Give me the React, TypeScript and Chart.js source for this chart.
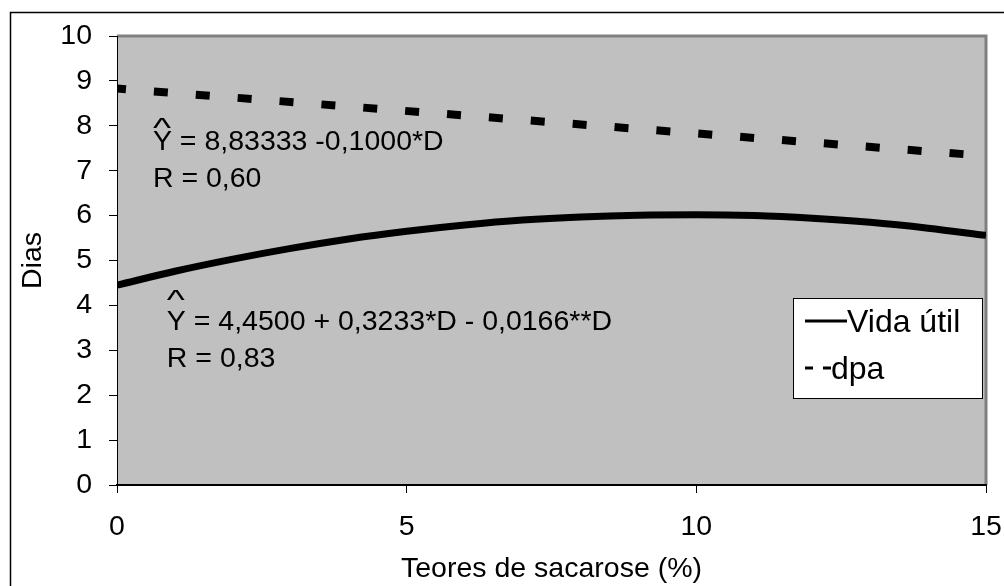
import React, { useEffect, useRef } from 'react';
import Chart from 'chart.js/auto';

// Teores de sacarose (%)
const sacarose = [0, 1, 2, 3, 4, 5, 6, 7, 8, 9, 10, 11, 12, 13, 14, 15];
// Vida útil (dias)
const vidaUtil = [4.45, 4.76, 5.03, 5.27, 5.48, 5.65, 5.79, 5.9, 5.97, 6.01, 6.02, 6.0, 5.94, 5.85, 5.72, 5.56];
// dpa (dias)
const dpaX = [0, 15];
const dpa = [8.83, 7.33];

const xTicks = [0, 5, 10, 15];
const yTicks = [0, 1, 2, 3, 4, 5, 6, 7, 8, 9, 10];

const FONT = '"Liberation Sans", Arial, sans-serif';
const SIZE = 28.5;

// regression labels, anchored in data units
const notes = [
  { x: 0.62, y: 7.46, caretGap: 13, lines: ['Y = 8,83333 -0,1000*D', 'R = 0,60'] },
  { x: 0.86, y: 3.45, caretGap: 21, lines: ['Y = 4,4500 + 0,3233*D - 0,0166**D', 'R = 0,83'] },
];

const framePlugin = {
  id: 'frame',
  beforeDraw(chart: any) {
    const { ctx, chartArea: a, width, height } = chart;
    ctx.save();
    ctx.fillStyle = '#fff';
    ctx.fillRect(0, 0, width, height);
    ctx.fillStyle = '#C0C0C0';
    ctx.fillRect(a.left, a.top, a.right - a.left, a.bottom - a.top);
    // outer frame (right/bottom sides fall outside the picture)
    ctx.strokeStyle = '#000';
    ctx.lineWidth = 1.5;
    ctx.beginPath();
    ctx.moveTo(10.5, height);
    ctx.lineTo(10.5, 12.5);
    ctx.lineTo(width, 12.5);
    ctx.stroke();
    // gray top / right edge of plot area
    ctx.strokeStyle = '#808080';
    ctx.lineWidth = 3;
    ctx.beginPath();
    ctx.moveTo(a.left, a.top);
    ctx.lineTo(a.right, a.top);
    ctx.lineTo(a.right, a.bottom);
    ctx.stroke();
    ctx.restore();
  },
  afterDraw(chart: any) {
    const { ctx } = chart;
    const xs = chart.scales.x;
    const ys = chart.scales.y;
    ctx.save();
    ctx.fillStyle = '#000';
    ctx.font = `${SIZE}px ${FONT}`;
    ctx.textAlign = 'left';
    ctx.textBaseline = 'alphabetic';
    notes.forEach((n) => {
      const px = xs.getPixelForValue(n.x);
      const py = ys.getPixelForValue(n.y);
      ctx.save();
      ctx.translate(px, py - n.caretGap);
      ctx.scale(1.35, 1);
      ctx.fillText('^', 0, 0);
      ctx.restore();
      n.lines.forEach((t, i) => ctx.fillText(t, px, py + i * 37));
    });

    // legend box
    const lx = 793, ly = 298, lw = 189, lh = 100;
    ctx.fillStyle = '#fff';
    ctx.fillRect(lx, ly, lw, lh);
    ctx.strokeStyle = '#000';
    ctx.lineWidth = 1;
    ctx.strokeRect(lx + 0.5, ly + 0.5, lw, lh);
    const rows = [
      { ds: chart.data.datasets[0], y: 321, end: 847, tx: 847, dash: [] as number[] },
      { ds: chart.data.datasets[1], y: 368, end: 831, tx: 831, dash: [8, 10] },
    ];
    ctx.font = `32px ${FONT}`;
    rows.forEach((r) => {
      ctx.strokeStyle = '#000';
      ctx.lineWidth = 3;
      ctx.setLineDash(r.dash);
      ctx.beginPath();
      ctx.moveTo(805, r.y);
      ctx.lineTo(r.end, r.y);
      ctx.stroke();
      ctx.setLineDash([]);
      ctx.fillStyle = '#000';
      ctx.textBaseline = 'middle';
      ctx.fillText(r.ds.label, r.tx, r.y + 2);
    });
    ctx.restore();
  },
};

const App: React.FC = () => {
  const canvasRef = useRef<HTMLCanvasElement>(null);
  const chartRef = useRef<Chart | null>(null);

  useEffect(() => {
    if (!canvasRef.current) return;
    if (chartRef.current) chartRef.current.destroy();

    chartRef.current = new Chart(canvasRef.current, {
      type: 'line',
      data: {
        datasets: [
          {
            label: 'Vida útil',
            data: sacarose.map((x, i) => ({ x, y: vidaUtil[i] })),
            borderColor: '#000',
            borderWidth: 7,
            pointRadius: 0,
            cubicInterpolationMode: 'monotone',
            fill: false,
          },
          {
            label: 'dpa',
            data: dpaX.map((x, i) => ({ x, y: dpa[i] })),
            borderColor: '#000',
            borderWidth: 8,
            borderDash: [14, 28],
            borderDashOffset: 5,
            borderCapStyle: 'butt',
            pointRadius: 0,
            fill: false,
          },
        ],
      },
      options: {
        responsive: true,
        maintainAspectRatio: false,
        animation: false,
        layout: { padding: { left: 0, top: 36, right: 18, bottom: 0 } },
        plugins: {
          legend: { display: false },
          tooltip: { enabled: false },
        },
        scales: {
          x: {
            type: 'linear',
            min: 0,
            max: 15,
            afterFit: (s: any) => {
              s.height = 101;
              s.paddingLeft = 0;
              s.paddingRight = 0;
            },
            afterBuildTicks: (s: any) => {
              s.ticks = xTicks.map((v) => ({ value: v }));
            },
            ticks: {
              color: '#000',
              padding: 17,
              font: { family: FONT, size: SIZE },
            },
            grid: { drawOnChartArea: false, drawTicks: true, tickLength: 8, color: '#000' },
            border: { color: '#000', width: 2 },
            title: {
              display: true,
              text: 'Teores de sacarose (%)',
              color: '#000',
              font: { family: FONT, size: SIZE },
              padding: { top: 2, bottom: 0 },
            },
          },
          y: {
            min: 0,
            max: 10,
            afterFit: (s: any) => {
              s.width = 117;
              s.paddingTop = 0;
              s.paddingBottom = 0;
            },
            afterBuildTicks: (s: any) => {
              s.ticks = yTicks.map((v) => ({ value: v }));
            },
            ticks: {
              color: '#000',
              padding: 17,
              font: { family: FONT, size: SIZE },
            },
            grid: { drawOnChartArea: false, drawTicks: true, tickLength: 8, color: '#000' },
            border: { color: '#000', width: 1 },
            title: {
              display: true,
              text: 'Dias',
              color: '#000',
              font: { family: FONT, size: SIZE },
              padding: { top: 16, bottom: 0 },
            },
          },
        },
      },
      plugins: [framePlugin],
    });

    return () => {
      if (chartRef.current) {
        chartRef.current.destroy();
        chartRef.current = null;
      }
    };
  }, []);

  return (
    <div style={{ position: 'absolute', left: 0, top: 0, width: 1004, height: 586, background: '#fff' }}>
      <canvas ref={canvasRef}></canvas>
    </div>
  );
};

export default App;
